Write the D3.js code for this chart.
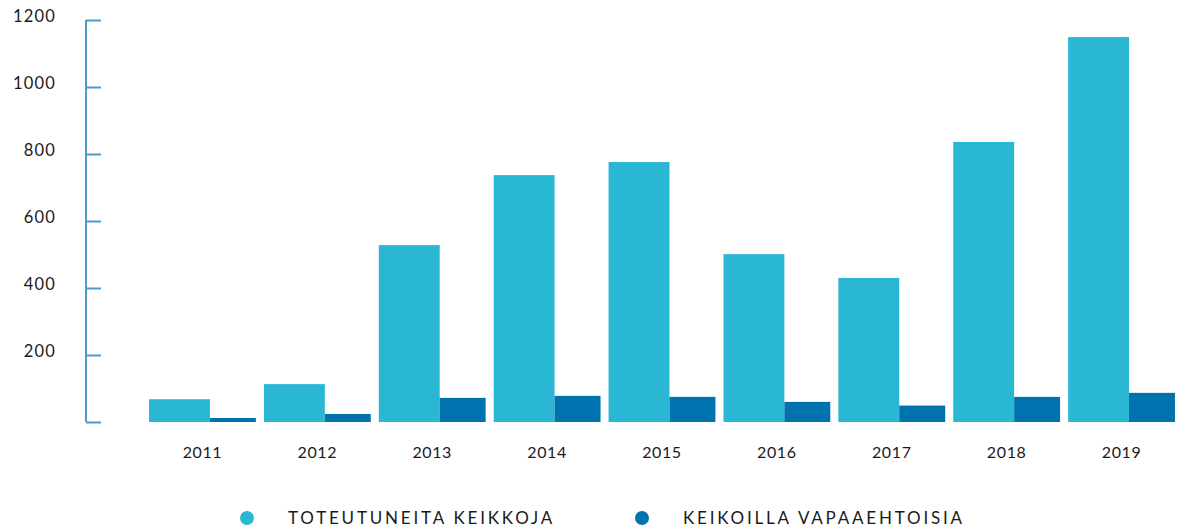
<!DOCTYPE html>
<meta charset="utf-8">
<style>
body { margin: 0; background: #fff; }
svg { display: block; }
.axis path, .axis line { stroke: #4b9cc8; stroke-width: 2; }
.axis text, .xlabel, .legend text {
    font-family: "Lato", "DejaVu Sans", sans-serif;
    fill: #1a1a1a;
}
.axis text { font-size: 16.5px; letter-spacing: 1.2px; }
.xlabel { font-size: 16px; letter-spacing: 0.6px; }
.legend text { font-size: 17px; letter-spacing: 2.8px; }
</style>
<body>
<div id="chart"></div>
<script src="https://cdnjs.cloudflare.com/ajax/libs/d3/7.8.5/d3.min.js"></script>
<script>
// data
var years = ["2011", "2012", "2013", "2014", "2015", "2016", "2017", "2018", "2019"];
var keikat = [68, 113, 528, 737, 776, 501, 430, 836, 1149];
var vapaaehtoiset = [12, 24, 72, 78, 75, 60, 49, 75, 87];
var yTicks = [0, 200, 400, 600, 800, 1000, 1200];
var seriesNames = ["TOTEUTUNEITA KEIKKOJA", "KEIKOILLA VAPAAEHTOISIA"];
var colors = ["#29b7d3", "#0072ae"];

var width = 1178, height = 532;
var svg = d3.select("#chart").append("svg")
    .attr("width", width)
    .attr("height", height);

var x = d3.scaleBand()
    .domain(years)
    .range([141, 1183])
    .padding(0.07);

var y = d3.scaleLinear()
    .domain([0, 1200])
    .range([422, 20]);

// share of the group taken by the first bar
var split = 0.57;

// y axis, ticks pointing into the plot
var yAxis = d3.axisRight(y)
    .tickValues(yTicks)
    .tickSize(15)
    .tickFormat(function(d) { return d === 0 ? "" : d; });

var gY = svg.append("g")
    .attr("class", "axis")
    .attr("transform", "translate(86,0)")
    .call(yAxis);
gY.select(".domain").attr("d", "M0," + y(1200) + "V" + y(0));
gY.selectAll("text")
    .attr("text-anchor", "end")
    .attr("x", -30)
    .attr("dy", "0.1em");

var groups = svg.append("g").selectAll("g")
    .data(years)
    .join("g")
    .attr("transform", function(d) { return "translate(" + x(d) + ",0)"; });

groups.append("rect")
    .attr("x", 0)
    .attr("width", x.bandwidth() * split)
    .attr("y", function(d, i) { return y(keikat[i]); })
    .attr("height", function(d, i) { return y(0) - y(keikat[i]); })
    .attr("fill", colors[0]);

groups.append("rect")
    .attr("x", x.bandwidth() * split)
    .attr("width", x.bandwidth() * (1 - split))
    .attr("y", function(d, i) { return y(vapaaehtoiset[i]); })
    .attr("height", function(d, i) { return y(0) - y(vapaaehtoiset[i]); })
    .attr("fill", colors[1]);

groups.append("text")
    .attr("class", "xlabel")
    .attr("x", x.bandwidth() / 2)
    .attr("y", 458)
    .attr("text-anchor", "middle")
    .text(function(d) { return d; });

// legend
var legendX = [247, 642];
var legend = svg.append("g").attr("class", "legend")
    .selectAll("g")
    .data(seriesNames)
    .join("g")
    .attr("transform", function(d, i) { return "translate(" + legendX[i] + ",518)"; });

legend.append("circle")
    .attr("r", 7)
    .attr("fill", function(d, i) { return colors[i]; });

legend.append("text")
    .attr("x", 41)
    .attr("dy", "0.36em")
    .text(function(d) { return d; });
</script>
</body>
